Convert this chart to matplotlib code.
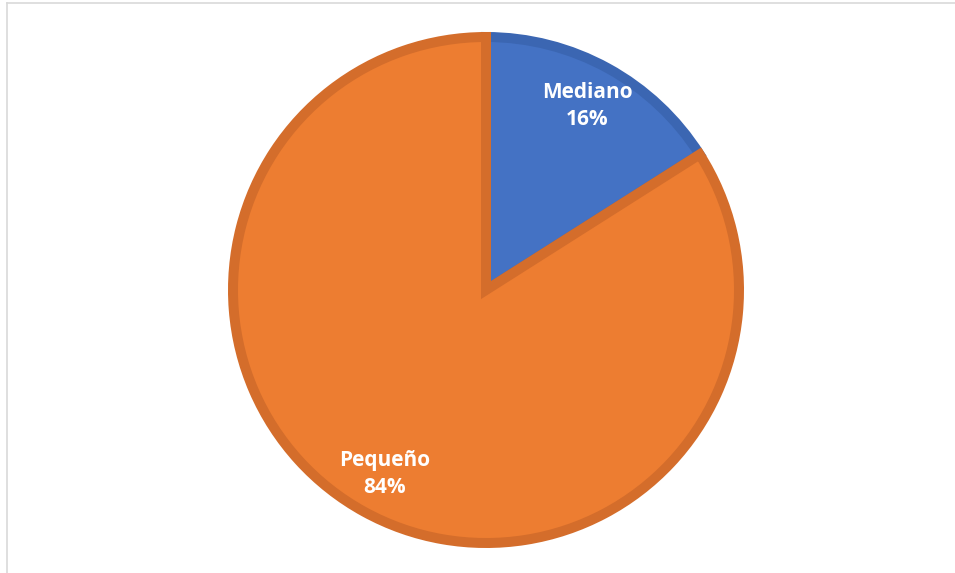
import matplotlib.pyplot as plt
from matplotlib.lines import Line2D

categories = ["Mediano", "Pequeño"]
shares = [16, 84]

face_colors = ["#4472C4", "#ED7D31"]
edge_colors = ["#3B66B2", "#D46D2B"]


def main():
    fig = plt.figure(figsize=(9.55, 5.73), dpi=100)
    ax = fig.add_axes([0, 0, 1, 1])

    names = iter(categories)

    wedges, texts, autotexts = ax.pie(
        shares,
        colors=face_colors,
        startangle=90,
        counterclock=False,
        center=(486, 283),
        radius=253,
        autopct=lambda p: f"{next(names)}\n{p:.0f}%",
        pctdistance=0.83,
        textprops={"color": "white", "fontsize": 15, "fontweight": "bold",
                   "family": "Open Sans", "linespacing": 1.4},
        frame=True,
    )
    for w, ec in zip(wedges, edge_colors):
        w.set_edgecolor(ec)
        w.set_linewidth(7.2)
        w.set_joinstyle("miter")

    ax.set_xlim(0, 955)
    ax.set_ylim(0, 573)
    ax.set_aspect("equal")
    ax.axis("off")

    # light chart frame
    fig.add_artist(Line2D([7 / 955, 7 / 955], [0, 1 - 2.5 / 573],
                          transform=fig.transFigure, color="#D9D9D9", lw=1.2))
    fig.add_artist(Line2D([7 / 955, 1], [1 - 2.5 / 573, 1 - 2.5 / 573],
                          transform=fig.transFigure, color="#D9D9D9", lw=1.2))

    fig.savefig("out.png", dpi=100, facecolor="white")
    plt.close(fig)


if __name__ == "__main__":
    main()
